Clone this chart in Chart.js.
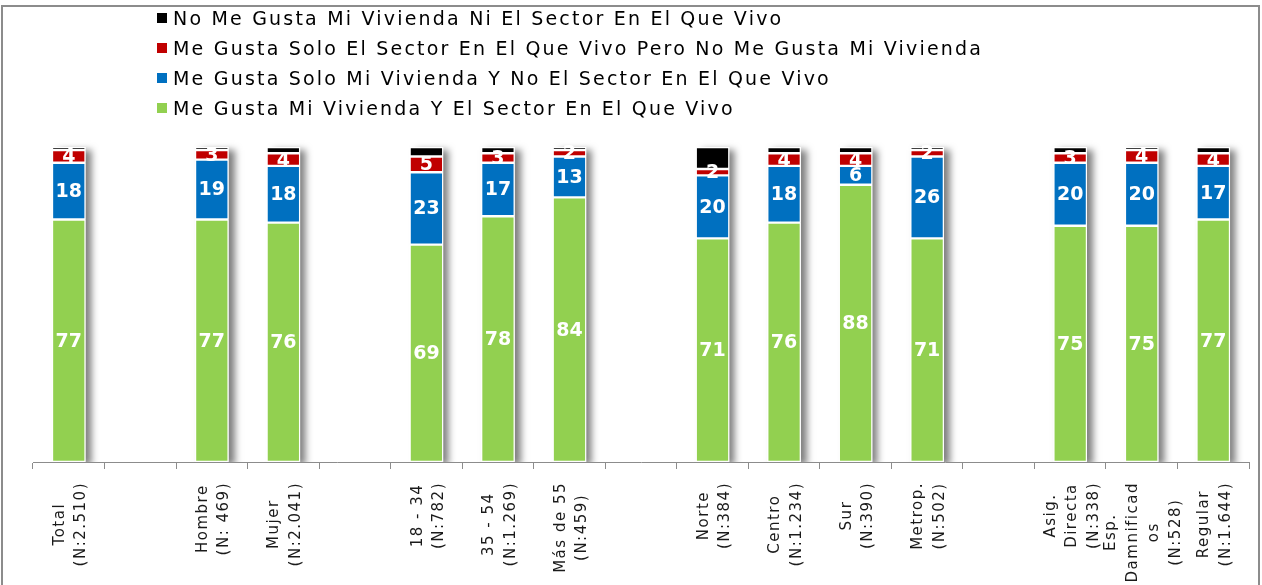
<!DOCTYPE html>
<html lang="es">
<head>
<meta charset="utf-8">
<title>Satisfacción con la vivienda y el sector</title>
<script src="https://cdn.jsdelivr.net/npm/chart.js@4.4.1/dist/chart.umd.min.js"></script>
<style>
  html, body { margin: 0; padding: 0; background: #fff; }
  #wrap { position: relative; width: 1262px; height: 585px; overflow: hidden; }
  #legend {
    position: absolute; left: 157px; top: 3px;
    font-family: "DejaVu Sans", Verdana, sans-serif; font-size: 19px;
    letter-spacing: 2.2px; color: #000;
  }
  .item { display: flex; align-items: center; height: 30px; }
  .box { width: 10px; height: 10px; margin-right: 6px; flex: none; }
</style>
</head>
<body>
<div id="wrap">
  <canvas id="chart" width="1262" height="585"></canvas>
  <div id="legend"></div>
</div>
<script>
// Categories (empty strings are spacer slots between groups)
const categories = [
  ['Total', '(N:2.510)'], '',
  ['Hombre', '(N: 469)'], ['Mujer', '(N:2.041)'], '',
  ['18 - 34', '(N:782)'], ['35 - 54', '(N:1.269)'], ['Más de 55', '(N:459)'], '',
  ['Norte', '(N:384)'], ['Centro', '(N:1.234)'], ['Sur', '(N:390)'], ['Metrop.', '(N:502)'], '',
  ['Asig.', 'Directa', '(N:338)'], ['Esp.', 'Damnificad', 'os', '(N:528)'], ['Regular', '(N:1.644)']
];

const seriesNames = [
  'Me Gusta Mi Vivienda Y El Sector En El Que Vivo',
  'Me Gusta Solo Mi Vivienda Y No El Sector En El Que Vivo',
  'Me Gusta Solo El Sector En El Que Vivo Pero No Me Gusta Mi Vivienda',
  'No Me Gusta Mi Vivienda Ni El Sector En El Que Vivo'
];

// Percentages per category
const gustaAmbos   = [77, null, 77, 76, null, 69, 78, 84, null, 71, 76, 88, 71, null, 75, 75, 77];
const soloVivienda = [18, null, 19, 18, null, 23, 17, 13, null, 20, 18,  6, 26, null, 20, 20, 17];
const soloSector   = [ 4, null,  3,  4, null,  5,  3,  2, null,  2,  4,  4,  2, null,  3,  4,  4];
const ninguno      = [ 1, null,  1,  2, null,  3,  2,  1, null,  7,  2,  2,  1, null,  2,  1,  2];

const colors = ['#92D050', '#0070C0', '#C00000', '#000000'];
const seriesValues = [gustaAmbos, soloVivienda, soloSector, ninguno];

const FONT = '"DejaVu Sans", Verdana, sans-serif';

// Outer frame of the chart
const framePlugin = {
  id: 'frame',
  beforeDraw(chart) {
    const ctx = chart.ctx;
    ctx.save();
    ctx.strokeStyle = '#8c8c8c';
    ctx.lineWidth = 2;
    ctx.strokeRect(2, 6, chart.width - 5, chart.height + 20);
    ctx.restore();
  }
};

// Soft drop shadow behind each full stacked column
const shadowPlugin = {
  id: 'columnShadow',
  beforeDatasetsDraw(chart) {
    const ctx = chart.ctx;
    const base = chart.getDatasetMeta(0);
    const topMeta = chart.getDatasetMeta(chart.data.datasets.length - 1);
    ctx.save();
    ctx.beginPath();
    ctx.rect(0, 0, chart.width, chart.chartArea.bottom);
    ctx.clip();
    ctx.shadowColor = 'rgba(0,0,0,0.5)';
    ctx.shadowBlur = 7;
    ctx.shadowOffsetX = 6;
    ctx.shadowOffsetY = 3;
    ctx.fillStyle = '#ffffff';
    base.data.forEach((el, i) => {
      if (gustaAmbos[i] == null) return;
      const topEl = topMeta.data[i];
      const w = el.width;
      ctx.fillRect(el.x - w / 2, topEl.y, w, el.base - topEl.y);
    });
    ctx.restore();
  }
};

// White value labels centred in each segment
const valuePlugin = {
  id: 'segmentValues',
  afterDatasetsDraw(chart) {
    const ctx = chart.ctx;
    ctx.save();
    ctx.font = 'bold 19px ' + FONT;
    ctx.fillStyle = '#ffffff';
    ctx.textAlign = 'center';
    ctx.textBaseline = 'middle';
    for (let d = 0; d < 3; d++) {
      const meta = chart.getDatasetMeta(d);
      meta.data.forEach((el, i) => {
        const v = seriesValues[d][i];
        if (v == null) return;
        ctx.fillText(String(v), el.x, (el.y + el.base) / 2 + 1);
      });
    }
    ctx.restore();
  }
};

// Vertical category labels: block starts below the axis, lines centred in the block
const xLabelPlugin = {
  id: 'verticalLabels',
  afterDraw(chart) {
    const ctx = chart.ctx;
    const xs = chart.scales.x;
    const top = chart.chartArea.bottom + 20;
    const pitch = 21.5;
    ctx.save();
    ctx.font = '15px ' + FONT;
    if ('letterSpacing' in ctx) ctx.letterSpacing = '1.5px';
    ctx.fillStyle = '#1a1a1a';
    ctx.textAlign = 'center';
    ctx.textBaseline = 'middle';
    categories.forEach((lab, i) => {
      if (!lab) return;
      const lines = Array.isArray(lab) ? lab : [lab];
      const maxW = Math.max(...lines.map(l => ctx.measureText(l).width));
      const cx = xs.getPixelForValue(i) + 2;
      const cy = top + maxW / 2;
      lines.forEach((line, k) => {
        const lx = cx + (k - (lines.length - 1) / 2) * pitch;
        ctx.save();
        ctx.translate(lx, cy);
        ctx.rotate(-Math.PI / 2);
        ctx.fillText(line, 0, 0);
        ctx.restore();
      });
    });
    ctx.restore();
  }
};

const chart = new Chart(document.getElementById('chart'), {
  type: 'bar',
  data: {
    labels: categories,
    datasets: seriesValues.map((vals, d) => ({
      label: seriesNames[d],
      data: vals,
      backgroundColor: colors[d],
      borderColor: '#ffffff',
      borderWidth: 1.2,
      borderSkipped: false,
      barPercentage: 0.47,
      categoryPercentage: 1.0
    }))
  },
  options: {
    responsive: false,
    animation: false,
    layout: { padding: { left: 33, right: 13, top: 147, bottom: 116 } },
    plugins: {
      legend: { display: false },
      tooltip: { enabled: false },
      title: { display: false }
    },
    scales: {
      x: {
        stacked: true,
        offset: true,
        grid: {
          display: true,
          drawOnChartArea: false,
          drawTicks: true,
          tickLength: 7,
          color: '#8c8c8c'
        },
        border: { display: true, color: '#8c8c8c', width: 1 },
        ticks: { display: false }
      },
      y: {
        stacked: true,
        display: false,
        min: 0,
        max: 100
      }
    }
  },
  plugins: [framePlugin, shadowPlugin, valuePlugin, xLabelPlugin]
});

// Legend listed top-down in reverse series order
const legendEl = document.getElementById('legend');
for (let d = seriesNames.length - 1; d >= 0; d--) {
  const item = document.createElement('div');
  item.className = 'item';
  const box = document.createElement('span');
  box.className = 'box';
  box.style.background = colors[d];
  const txt = document.createElement('span');
  txt.textContent = seriesNames[d];
  item.appendChild(box);
  item.appendChild(txt);
  legendEl.appendChild(item);
}
</script>
</body>
</html>
